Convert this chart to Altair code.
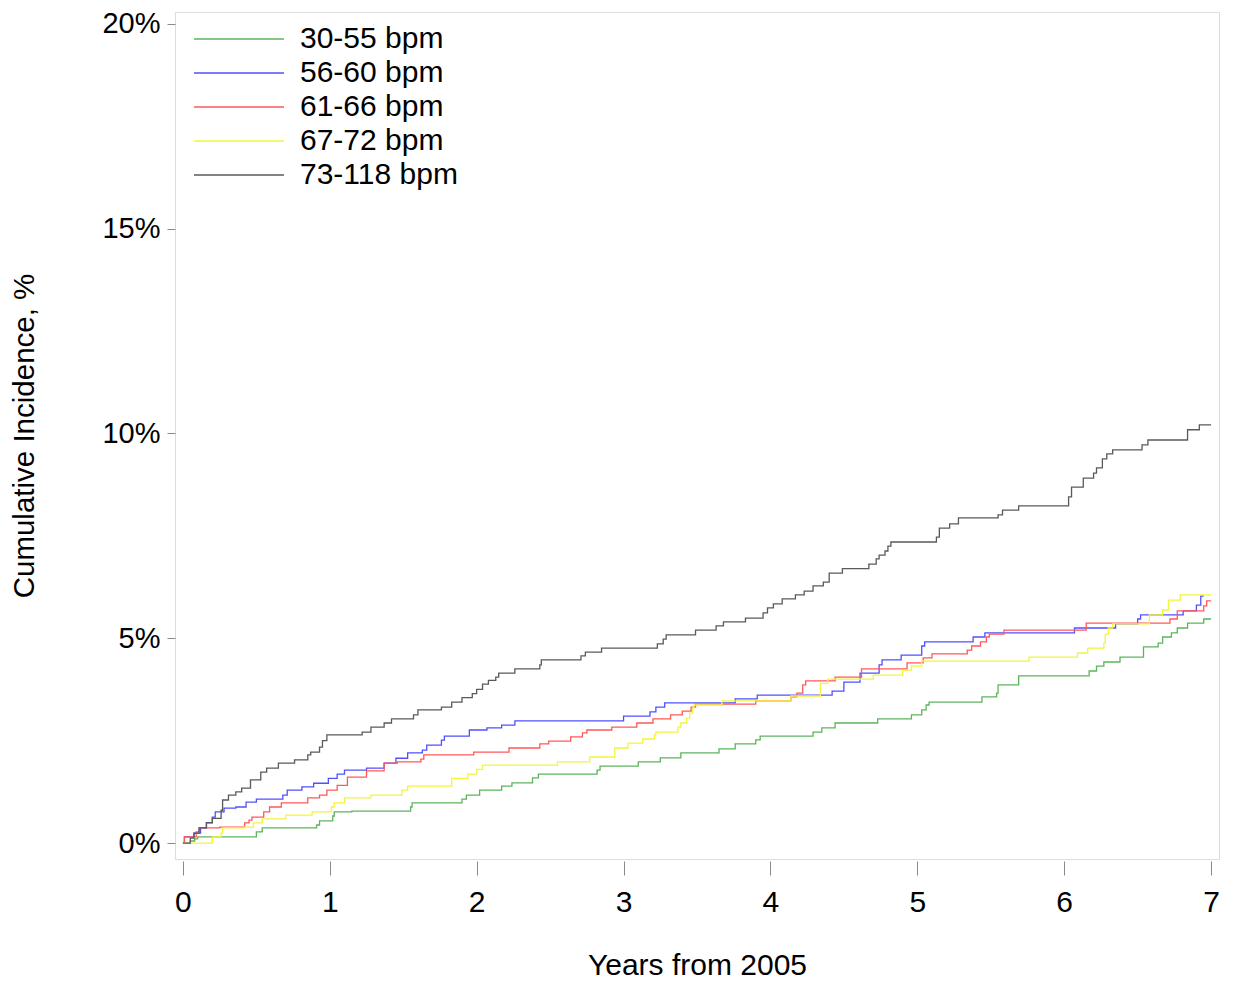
import altair as alt
import pandas as pd

groups = ["30-55 bpm", "56-60 bpm", "61-66 bpm", "67-72 bpm", "73-118 bpm"]
colors = ["#5cb45c", "#5050ff", "#ff5858", "#f4f43c", "#5a5a5a"]

g_t = [0, 0.05, 0.08, 0.1, 0.5, 0.54, 0.91, 0.93, 1.02, 1.03, 1.15, 1.55, 1.56, 1.9, 1.93, 2.02, 2.17, 2.24, 2.38, 2.42, 2.82, 2.84, 3.1, 3.25, 3.39, 3.65, 3.76, 3.9, 3.93, 4.29, 4.35, 4.44, 4.73, 4.96, 5.03, 5.06, 5.08, 5.44, 5.54, 5.55, 5.69, 6.17, 6.22, 6.27, 6.38, 6.54, 6.64, 6.67, 6.73, 6.77, 6.84, 6.95, 7.0]
g_v = [0, 0.05, 0.1, 0.15, 0.27, 0.37, 0.44, 0.54, 0.66, 0.76, 0.78, 0.88, 0.98, 1.07, 1.17, 1.29, 1.39, 1.47, 1.59, 1.68, 1.78, 1.88, 1.98, 2.08, 2.2, 2.3, 2.42, 2.52, 2.61, 2.71, 2.81, 2.93, 3.03, 3.13, 3.25, 3.37, 3.44, 3.57, 3.66, 3.86, 4.08, 4.2, 4.32, 4.42, 4.54, 4.79, 4.88, 5.03, 5.13, 5.25, 5.37, 5.47, 5.47]

b_t = [0, 0.01, 0.075, 0.12, 0.16, 0.2, 0.22, 0.28, 0.36, 0.43, 0.5, 0.68, 0.71, 0.81, 0.89, 0.99, 1.05, 1.1, 1.25, 1.37, 1.45, 1.53, 1.63, 1.66, 1.76, 1.78, 1.95, 2.07, 2.17, 2.26, 3.0, 3.18, 3.22, 3.28, 3.76, 3.91, 4.42, 4.5, 4.61, 4.74, 4.76, 4.89, 5.03, 5.05, 5.38, 5.46, 6.07, 6.35, 6.5, 6.52, 6.81, 6.9, 6.93, 6.95]
b_v = [0, 0.15, 0.24, 0.37, 0.5, 0.63, 0.76, 0.85, 0.88, 1.0, 1.07, 1.17, 1.29, 1.37, 1.46, 1.58, 1.68, 1.78, 1.83, 1.95, 2.07, 2.2, 2.27, 2.39, 2.51, 2.61, 2.76, 2.81, 2.88, 2.98, 3.1, 3.2, 3.32, 3.42, 3.52, 3.61, 3.71, 3.93, 4.15, 4.35, 4.47, 4.59, 4.81, 4.91, 5.03, 5.13, 5.25, 5.35, 5.47, 5.57, 5.67, 5.81, 6.03, 6.03]

r_t = [0, 0.01, 0.09, 0.11, 0.25, 0.42, 0.45, 0.47, 0.55, 0.59, 0.67, 0.85, 0.93, 0.98, 1.05, 1.12, 1.25, 1.37, 1.46, 1.62, 1.64, 1.98, 2.22, 2.43, 2.49, 2.64, 2.72, 2.75, 2.92, 3.09, 3.2, 3.32, 3.4, 3.46, 3.49, 3.9, 4.14, 4.18, 4.22, 4.24, 4.44, 4.62, 4.93, 5.04, 5.1, 5.34, 5.37, 5.43, 5.47, 5.49, 5.59, 6.15, 6.72, 6.77, 6.95, 6.97, 7.0]
r_v = [0, 0.15, 0.27, 0.37, 0.39, 0.49, 0.56, 0.63, 0.76, 0.88, 0.98, 1.1, 1.17, 1.29, 1.41, 1.61, 1.76, 1.95, 1.98, 2.05, 2.15, 2.22, 2.32, 2.42, 2.49, 2.59, 2.69, 2.76, 2.83, 2.93, 3.03, 3.13, 3.22, 3.32, 3.39, 3.47, 3.57, 3.66, 3.86, 3.96, 4.05, 4.25, 4.4, 4.52, 4.62, 4.71, 4.81, 4.91, 5.03, 5.1, 5.2, 5.37, 5.47, 5.67, 5.79, 5.91, 5.91]

y_t = [0, 0.2, 0.26, 0.27, 0.42, 0.48, 0.54, 0.7, 0.88, 1.01, 1.03, 1.1, 1.28, 1.49, 1.53, 1.83, 1.94, 2.0, 2.04, 2.55, 2.77, 2.94, 3.03, 3.13, 3.21, 3.22, 3.37, 3.39, 3.43, 3.45, 3.47, 3.48, 3.67, 4.14, 4.34, 4.39, 4.7, 4.9, 4.96, 5.03, 5.76, 6.09, 6.16, 6.27, 6.28, 6.3, 6.33, 6.58, 6.67, 6.71, 6.79, 7.0]
y_v = [0, 0.15, 0.24, 0.37, 0.39, 0.49, 0.59, 0.68, 0.76, 0.88, 0.98, 1.1, 1.17, 1.29, 1.39, 1.58, 1.68, 1.8, 1.9, 1.98, 2.1, 2.32, 2.44, 2.54, 2.64, 2.71, 2.83, 2.93, 3.05, 3.17, 3.3, 3.37, 3.47, 3.59, 3.9, 4.0, 4.1, 4.22, 4.32, 4.44, 4.54, 4.64, 4.76, 4.88, 5.1, 5.25, 5.35, 5.57, 5.69, 5.93, 6.06, 6.06]

k_t = [0, 0.05, 0.075, 0.11, 0.16, 0.2, 0.26, 0.27, 0.31, 0.36, 0.4, 0.46, 0.53, 0.57, 0.65, 0.76, 0.85, 0.87, 0.93, 0.95, 0.98, 1.22, 1.28, 1.37, 1.42, 1.57, 1.6, 1.76, 1.83, 1.9, 1.97, 2.0, 2.04, 2.08, 2.13, 2.15, 2.26, 2.43, 2.44, 2.71, 2.74, 2.85, 3.23, 3.27, 3.29, 3.49, 3.63, 3.68, 3.83, 3.95, 3.98, 4.02, 4.08, 4.17, 4.23, 4.29, 4.36, 4.4, 4.49, 4.67, 4.72, 4.74, 4.78, 4.8, 4.82, 5.13, 5.15, 5.22, 5.28, 5.55, 5.58, 5.69, 6.03, 6.05, 6.13, 6.2, 6.22, 6.26, 6.29, 6.33, 6.53, 6.57, 6.84, 6.92, 7.0]
k_v = [0, 0.12, 0.24, 0.37, 0.49, 0.6, 0.8, 1.05, 1.17, 1.25, 1.34, 1.54, 1.73, 1.83, 1.95, 2.03, 2.15, 2.22, 2.34, 2.5, 2.64, 2.71, 2.83, 2.93, 3.03, 3.13, 3.25, 3.32, 3.44, 3.55, 3.65, 3.75, 3.88, 3.97, 4.05, 4.15, 4.25, 4.35, 4.47, 4.57, 4.66, 4.76, 4.86, 4.98, 5.08, 5.2, 5.3, 5.4, 5.49, 5.62, 5.74, 5.84, 5.96, 6.06, 6.15, 6.28, 6.37, 6.59, 6.7, 6.81, 6.94, 7.03, 7.13, 7.25, 7.35, 7.47, 7.69, 7.79, 7.94, 8.01, 8.13, 8.23, 8.45, 8.69, 8.91, 9.03, 9.16, 9.38, 9.5, 9.6, 9.72, 9.84, 10.09, 10.21, 10.21]

x_ticks = [0, 1, 2, 3, 4, 5, 6, 7]
y_ticks = [0, 5, 10, 15, 20]

series = [(g_t, g_v), (b_t, b_v), (r_t, r_v), (y_t, y_v), (k_t, k_v)]
rows = []
for i, (name, (ts, vs)) in enumerate(zip(groups, series)):
    if len(ts) != len(vs):
        raise ValueError(f"length mismatch for {name}")
    for t, v in zip(ts, vs):
        rows.append({"group": name, "order": i, "t": t, "v": v})
df = pd.DataFrame(rows)

FONT = "Liberation Sans"

chart = alt.Chart(df).mark_line(interpolate="step-after", strokeWidth=1.3).encode(
    x=alt.X("t:Q",
            scale=alt.Scale(domain=[-0.054, 7.054], nice=False, zero=False),
            axis=alt.Axis(values=x_ticks, title="Years from 2005", domain=False, grid=False,
                          offset=2, tickSize=14, tickColor="#8a8a8a", labelFontSize=30,
                          labelPadding=12, labelFont=FONT, labelColor="#000",
                          titleFont=FONT, titleFontSize=30, titleFontWeight="normal",
                          titleColor="#000", titlePadding=33, labelFlush=False)),
    y=alt.Y("v:Q",
            scale=alt.Scale(domain=[-0.39, 20.29], nice=False, zero=False),
            axis=alt.Axis(values=y_ticks, title="Cumulative Incidence, %", domain=False, grid=False,
                          tickSize=8, tickColor="#8a8a8a", labelFontSize=29, labelPadding=7,
                          labelExpr="datum.value + '%'", labelFont=FONT, labelColor="#000",
                          titleFont=FONT, titleFontSize=29.5, titleFontWeight="normal",
                          titleColor="#000", titlePadding=62)),
    color=alt.Color("group:N",
                    scale=alt.Scale(domain=groups, range=colors),
                    legend=alt.Legend(title=None, orient="none", legendX=9, legendY=12,
                                      symbolType="M-1,0H17", symbolSize=100,
                                      symbolStrokeWidth=1.3, labelFontSize=30, labelFont=FONT,
                                      labelColor="#000", labelOffset=86, rowPadding=4,
                                      padding=0, labelLimit=400)),
    detail="order:O",
).properties(
    width=1044,
    height=847,
    padding={"left": 167, "top": 4, "right": 10, "bottom": 126},
    autosize=alt.AutoSizeParams(type="none"),
).configure_view(
    stroke="#7f7f7f", strokeWidth=1.5
).configure(font=FONT)

chart.save("out.html", embed_options={"renderer": "svg", "actions": False})
